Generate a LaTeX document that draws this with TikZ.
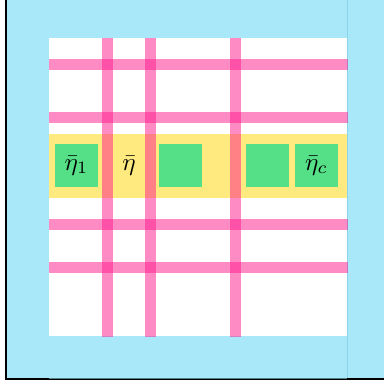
\documentclass[tikz,border=0pt]{standalone}
\usepackage{amsmath}
\usepackage{tikz}
\usepackage{xcolor}
\definecolor{skyfill}{RGB}{168,232,248}
\definecolor{skyedge}{RGB}{140,212,234}
\definecolor{bandfill}{RGB}{255,234,128}
\definecolor{cellfill}{RGB}{85,224,136}
\definecolor{barpink}{RGB}{255,25,141}
\tikzset{
  cell/.style={
    draw=none, fill=cellfill,
    minimum width=43*0.4pt, minimum height=43*0.4pt,
    inner sep=0pt, font=\normalsize
  },
  plain/.style={inner sep=0pt, font=\normalsize},
  hbar/.style={fill=barpink, fill opacity=0.5},
  vbar/.style={fill=barpink, fill opacity=0.5},
}
\newcommand{\etab}{\bar{\eta}}

\begin{document}
\begin{tikzpicture}[x=0.4pt, y=-0.4pt]
  \useasboundingbox (0,0) rectangle (384,385);
  % frame
  \fill[skyfill] (7,0) rectangle (384,378);
  \draw[line width=0.8pt] (6,0) -- (6,379) -- (384,379);
  \draw[skyedge, line width=0.4pt] (347,0) -- (347,378);
  \draw[skyedge!60!black, line width=0.4pt] (49,378) -- (347,378);
  % grid area
  \fill[white] (49,38) rectangle (347,336);
  \fill[bandfill] (49,134) rectangle (347,198);

  \node[cell] (c1) at (76.5,165.5)  {$\etab_1$};
  \node[plain] (cm) at (129,165.5)  {$\etab$};
  \node[cell] (c2) at (180.5,165.5) {};
  \node[cell] (c3) at (267.5,165.5) {};
  \node[cell] (cc) at (316.5,165.5) {$\etab_c$};

  % bars
  \foreach \y in {64.5,117.5,224.5,267.5}
    \fill[hbar] (49,\y-5.5) rectangle (348,\y+5.5);
  \foreach \x in {107.5,150.5,235.5}
    \fill[vbar] (\x-5.5,38) rectangle (\x+5.5,337);
\end{tikzpicture}
\end{document}
